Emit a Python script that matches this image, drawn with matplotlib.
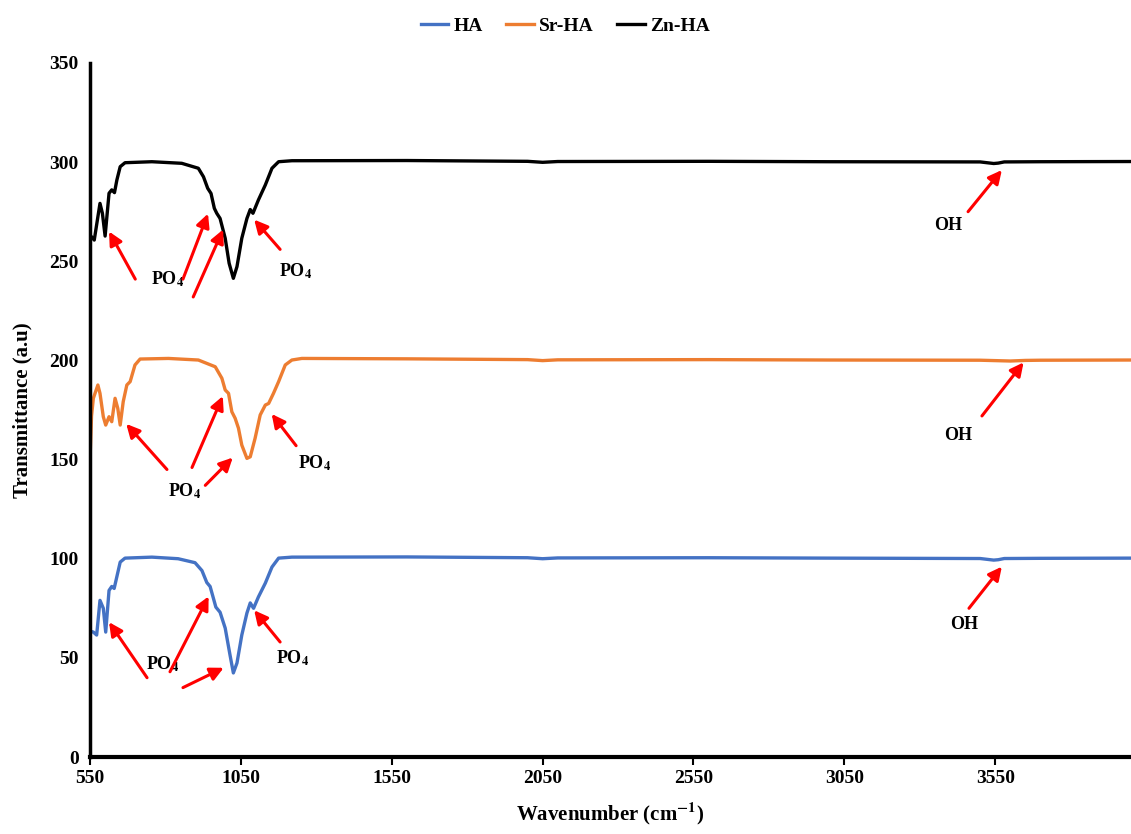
import matplotlib.pyplot as plt

plt.rcParams['font.family'] = ['Liberation Serif', 'DejaVu Serif']
plt.rcParams['font.weight'] = 'bold'
plt.rcParams['mathtext.fontset'] = 'stix'

# spectra (wavenumber, transmittance)
wn_ha = [550, 561, 572, 583, 594, 602, 613, 622, 630, 639, 650, 666, 755, 842, 898, 921,
         937, 948, 959, 967, 981, 998, 1014, 1025, 1037, 1053, 1070, 1081, 1092, 1108,
         1131, 1153, 1175, 1219, 1600, 2000, 2050, 2100, 2600, 3000, 3500, 3545, 3560,
         3580, 3700, 4000]
t_ha = [63.5, 63, 61.5, 79, 75, 63, 84, 86, 85, 91, 98.3, 100.3, 100.8, 100, 98, 94,
        88, 86, 80, 75.6, 73, 65, 51.4, 42.4, 47.4, 61.5, 72.6, 77.7, 75, 80.7,
        87.7, 95.8, 100.3, 100.8, 100.9, 100.5, 100, 100.4, 100.5, 100.3, 100.1, 99.3, 99.5,
        100.1, 100.2, 100.3]

wn_sr = [550, 555, 561, 576, 583, 594, 602, 613, 622, 633, 642, 650, 660, 672, 683, 699,
         716, 810, 909, 965, 987, 998, 1009, 1020, 1031, 1042, 1053, 1070, 1081, 1097,
         1114, 1131, 1142, 1158, 1175, 1197, 1219, 1252, 1600, 2000, 2050, 2100, 2600,
         3000, 3500, 3600, 3650, 3700, 4000]
t_sr = [150, 172, 180.9, 187.6, 183.4, 171.6, 167.4, 171.6, 169.1, 180.9, 175.8, 167.4,
        179.2, 187.6, 189.3, 197.7, 200.7, 201, 200.2, 196.8, 191, 185.1, 183.4, 174.1,
        170.8, 165.8, 157.3, 150.6, 151.4, 160.7, 172.5, 177.5, 178.3, 183.4, 189.3, 197.7,
        200.2, 201, 200.8, 200.4, 199.9, 200.3, 200.4, 200.2, 200.1, 199.7, 200, 200.1, 200.2]

wn_zn = [550, 564, 583, 591, 600, 613, 622, 631, 639, 650, 666, 755, 854, 909, 926, 940,
         951, 962, 970, 981, 998, 1011, 1025, 1037, 1053, 1070, 1081, 1090, 1108, 1131,
         1153, 1175, 1219, 1600, 2000, 2050, 2100, 2600, 3000, 3500, 3545, 3560, 3580,
         3700, 4000]
t_zn = [263.2, 260.7, 279.2, 274.2, 262.7, 284.3, 286, 284.6, 291, 297.7, 299.7, 300.2,
        299.4, 296.9, 292.6, 286.8, 284.2, 276.7, 274.2, 271.6, 261.6, 249, 241.4, 247.3,
        261.6, 271.6, 276.1, 274.2, 280.9, 288.5, 296.9, 300.2, 300.7, 300.8, 300.4, 299.9,
        300.3, 300.4, 300.2, 300.1, 299.3, 299.5, 300.1, 300.2, 300.3]

series = ['HA', 'Sr-HA', 'Zn-HA']
colors = ['#4472C4', '#ED7D31', '#000000']

# annotations: (label, label_x, label_y, [(tail_x, tail_y, tip_x, tip_y), ...])
po4 = r'PO$_\mathbf{4}$'
notes = [
    (po4, 806, 241, [(700, 241, 613, 265), (858, 241, 941, 274), (892, 232, 991, 266)]),
    (po4, 1233, 245, [(1180, 256, 1094, 271)]),
    ('OH', 3393, 268, [(3460, 275, 3572, 296)]),
    (po4, 865, 134, [(805, 145, 670, 168), (888, 146, 990, 182), (932, 137, 1023, 151)]),
    (po4, 1293, 148, [(1233, 157, 1152, 173)]),
    ('OH', 3427, 162, [(3506, 172, 3644, 199)]),
    (po4, 792, 47, [(739, 40, 613, 68), (815, 43, 943, 81), (858, 35, 993, 45)]),
    (po4, 1220, 50, [(1180, 58, 1094, 74)]),
    ('OH', 3447, 67, [(3463, 75, 3572, 96)]),
]

fig = plt.figure(figsize=(11.31, 8.34), dpi=100)
ax = fig.add_axes([0.0796, 0.0923, 0.9204, 0.8322])

for wn, t, name, c in zip([wn_ha, wn_sr, wn_zn], [t_ha, t_sr, t_zn], series, colors):
    ax.plot(wn, t, color=c, lw=2.4, label=name, solid_joinstyle='round')

for text, lx, ly, arrows in notes:
    ax.text(lx, ly, text, ha='center', va='center', fontsize=13, fontweight='bold')
    for x0, y0, x1, y1 in arrows:
        ax.annotate('', xy=(x1, y1), xytext=(x0, y0),
                    arrowprops=dict(arrowstyle='-|>', color='red', lw=2.2,
                                    mutation_scale=20, shrinkA=0, shrinkB=0))

ax.set_xlim(550, 4000)
ax.set_ylim(0, 350)
ax.set_xticks([550, 1050, 1550, 2050, 2550, 3050, 3550])
ax.set_yticks(range(0, 351, 50))
ax.tick_params(axis='x', length=6, width=1.5, labelsize=14, pad=3)
ax.tick_params(axis='y', length=0, labelsize=14, pad=8)
for lab in ax.get_xticklabels() + ax.get_yticklabels():
    lab.set_fontweight('bold')
for s in ['top', 'right']:
    ax.spines[s].set_visible(False)
ax.spines['left'].set_linewidth(2.5)
ax.spines['bottom'].set_linewidth(3)

ax.set_xlabel(r'Wavenumber (cm$^{\mathbf{-1}}$)', fontsize=15, fontweight='bold', labelpad=10)
ax.set_ylabel('Transmittance (a.u)', fontsize=15, fontweight='bold', labelpad=12)

fig.legend(loc='upper center', bbox_to_anchor=(0.5, 1.0), ncol=3, frameon=False,
           handlelength=1.4, handletextpad=0.3, columnspacing=1.2,
           prop={'weight': 'bold', 'size': 14})

plt.savefig('out.png', dpi=100)
